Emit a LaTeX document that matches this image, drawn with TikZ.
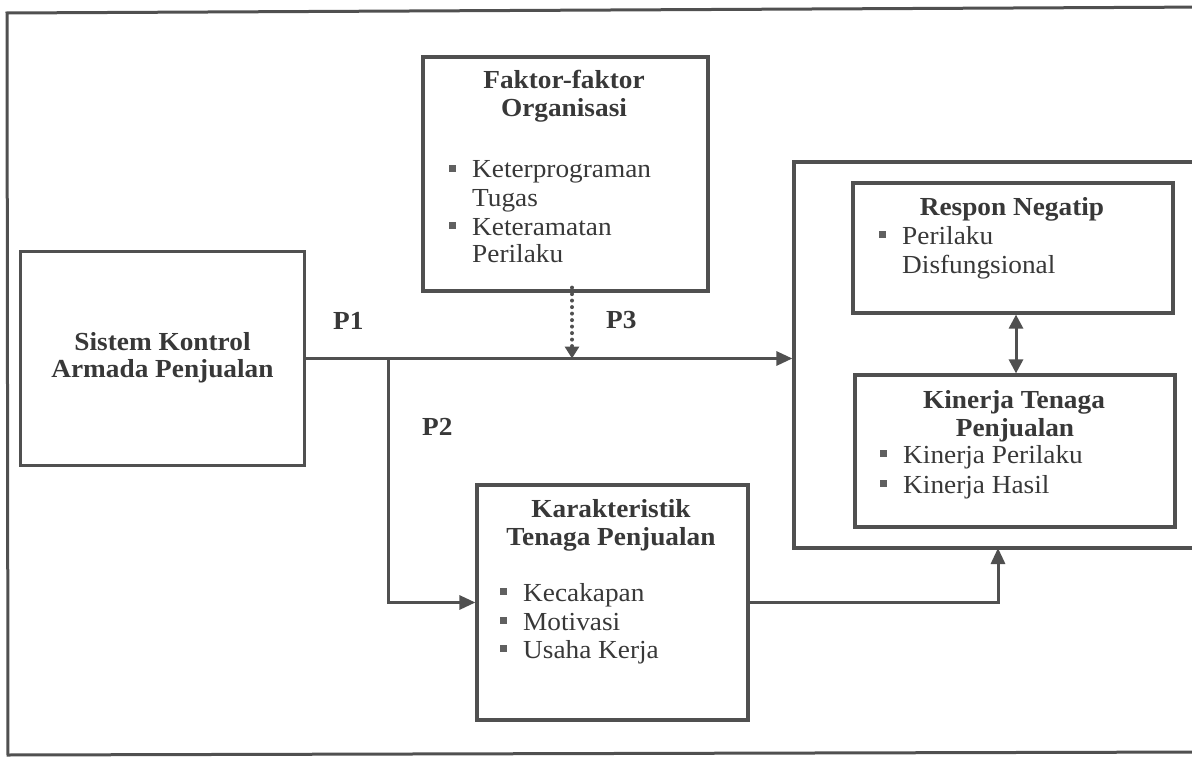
\documentclass[tikz,border=0pt]{standalone}
\usepackage{fontspec}
\setmainfont{Liberation Serif}[FakeStretch=1.05]
\usetikzlibrary{arrows.meta}
\definecolor{ln}{HTML}{505050}
\definecolor{tx}{HTML}{383838}
\definecolor{bl}{HTML}{606060}
\newcommand{\bul}{\llap{\textcolor{bl}{\rule[6pt]{7pt}{7pt}}\hspace{16pt}}}
\begin{document}
\begin{tikzpicture}[x=1pt,y=-1pt,
  box/.style={draw=ln,line width=3.2pt,inner sep=0pt},
  conn/.style={draw=ln,line width=3pt,-{Triangle[length=16pt,width=14pt]}},
  dconn/.style={draw=ln,line width=4pt,line cap=round,dash pattern=on 0pt off 6.5pt,-{Triangle[length=12pt,width=14pt]}},
  biconn/.style={draw=ln,line width=3pt,{Triangle[length=14pt,width=14pt]}-{Triangle[length=14pt,width=14pt]}},
  ttl/.style={anchor=base,font=\fontsize{26}{28}\selectfont\bfseries,text=tx,inner sep=0pt},
  itm/.style={anchor=base west,font=\fontsize{26}{28}\selectfont,text=tx,inner sep=0pt},
  lbl/.style={anchor=base west,font=\fontsize{26}{28}\selectfont\bfseries,text=tx,inner sep=0pt}]
\useasboundingbox (0,0) rectangle (1192,757);
% outer frame
\draw[ln,line width=3pt] (1215,7) -- (7,13) -- (8,755) -- (1215,752);
% boxes
\node[box,minimum width=284pt,minimum height=214pt] (sis) at (162.5,358.5) {};
\node[box,minimum width=285pt,minimum height=234pt] (fak) at (565.5,174) {};
\node[box,minimum width=421pt,minimum height=386pt] (outer) at (1004.5,355) {};
\node[box,minimum width=320pt,minimum height=130pt] (res) at (1013,248) {};
\node[box,minimum width=320pt,minimum height=152pt] (kin) at (1015,451) {};
\node[box,minimum width=271pt,minimum height=235pt] (kar) at (612.5,602.5) {};
% texts
\node[ttl] (sis1) at (162.5,350) {Sistem Kontrol};
\node[ttl] (sis2) at (162.5,377) {Armada Penjualan};
\node[ttl] (fak1) at (564,89) {Faktor-faktor};
\node[ttl] (fak2) at (564,117) {Organisasi};
\node[itm] (fak3) at (472,178) {\bul Keterprograman};
\node[itm] (fak4) at (472,207) {Tugas};
\node[itm] (fak5) at (472,235) {\bul Keteramatan};
\node[itm] (fak6) at (472,262) {Perilaku};
\node[ttl] (res1) at (1012,215) {Respon Negatip};
\node[itm] (res2) at (902,244) {\bul Perilaku};
\node[itm] (res3) at (902,273) {Disfungsional};
\node[ttl] (kin1) at (1014,408) {Kinerja Tenaga};
\node[ttl] (kin2) at (1015,436) {Penjualan};
\node[itm] (kin3) at (903,463) {\bul Kinerja Perilaku};
\node[itm] (kin4) at (903,493) {\bul Kinerja Hasil};
\node[ttl] (kar1) at (611,517) {Karakteristik};
\node[ttl] (kar2) at (611,545) {Tenaga Penjualan};
\node[itm] (kar3) at (523,601) {\bul Kecakapan};
\node[itm] (kar4) at (523,630) {\bul Motivasi};
\node[itm] (kar5) at (523,658) {\bul Usaha Kerja};
\node[lbl] (p1) at (333,329) {P1};
\node[lbl] (p2) at (422,435) {P2};
\node[lbl] (p3) at (606,328) {P3};
% connectors
\coordinate (br) at (388,358.5);
\coordinate (dj) at (572,358.5);
\coordinate (kt) at (998,548);
\coordinate (dx) at (1016,0);
\draw[conn] (sis.east) -- (outer.west |- sis.east);
\draw[conn] (br) |- (kar.west);
\draw[dconn] ([yshift=5pt]fak.south -| dj) -- (dj);
\draw[conn] (kar.east) -| (kt);
\draw[biconn] (res.south -| dx) -- (kin.north -| dx);
\end{tikzpicture}
\end{document}
